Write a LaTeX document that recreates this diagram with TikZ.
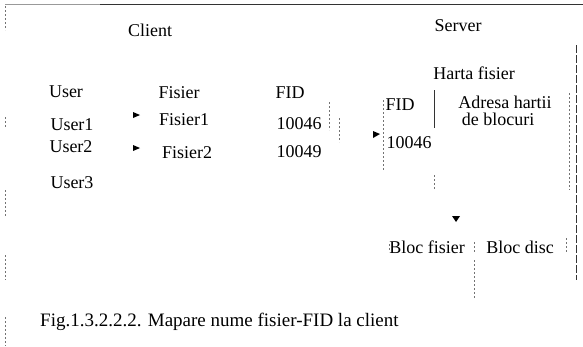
\documentclass[tikz,border=0pt]{standalone}
\usepackage{fontspec}
\setmainfont{Liberation Serif}
\usetikzlibrary{shapes.geometric}
\tikzset{
  lbl/.style={inner sep=0pt, font=\fontsize{18}{20}\selectfont},
  faint/.style={draw=black!55, line width=0.6pt, dash pattern=on 2pt off 2pt},
  rule/.style={draw=black!80, line width=0.8pt},
  tip/.style={fill=black, draw=none}
}
\begin{document}
\begin{tikzpicture}[x=1pt,y=-1pt]
\useasboundingbox (0,0) rectangle (583,346);
% frame remnants
\draw[draw=black!40, line width=0.6pt] (5,4) -- (100,4);
\draw[rule] (100,4) -- (583,4);
\draw[faint] (5,6) -- (5,30);
\draw[faint] (5,117) -- (5,128);
\draw[faint] (5,190) -- (5,217);
\draw[faint] (5,255) -- (5,280);
\draw[faint] (5,317) -- (5,346);

% headings
\node[lbl] (client) at (150,30) {Client};
\node[lbl] (server) at (458,26) {Server};
\node[lbl] (harta) at (474,73) {Harta fisier};

% client table
\node[lbl] (huser) at (66,92) {User};
\node[lbl] (hfis) at (179,93) {Fisier};
\node[lbl] (hfid) at (290,93) {FID};
\node[lbl] (u1) at (72,125) {User1};
\node[lbl] (u2) at (71,147) {User2};
\node[lbl] (u3) at (72,183) {User3};
\node[lbl] (f1) at (184,120) {Fisier1};
\node[lbl] (f2) at (187,153) {Fisier2};
\node[lbl] (id1) at (299,124) {10046};
\node[lbl] (id2) at (299,152) {10049};
\draw[faint] (329,102) -- (329,130);
\draw[faint] (339,118) -- (339,142);

% arrowheads towards the file names
\fill[tip] (133,112) -- (140,115) -- (133,118) -- cycle;
\fill[tip] (133,145) -- (140,148) -- (133,151) -- cycle;

% server file map
\draw[faint] (383,100) -- (383,170);
\fill[tip] (373,131) -- (380,134) -- (373,138) -- cycle;
\node[lbl] (sfid) at (400,105) {FID};
\node[lbl] (sid) at (409,143) {10046};
\draw[rule, line width=0.6pt] (434,90) -- (434,128);
\draw[faint] (434,175) -- (434,190);
\node[lbl] (adr) at (505,102) {Adresa hartii};
\node[lbl] (blc) at (498,119) {de blocuri};
\draw[faint] (569,93) -- (569,190);
\draw[rule, line width=0.6pt, dash pattern=on 8pt off 2pt] (576,45) -- (576,280);

% block level
\fill[tip] (452,216) -- (460,216) -- (456,222) -- cycle;
\node[lbl] (bf) at (427,247) {Bloc fisier};
\node[lbl] (bd) at (520,247) {Bloc disc};
\draw[faint] (389,244) -- (389,250);
\draw[faint] (474,242) -- (474,252);
\draw[faint] (566,238) -- (566,252);
\draw[faint] (474,260) -- (474,298);

% caption
\node[lbl, anchor=west, font=\fontsize{19}{21}\selectfont] (cap) at (40,322) {Fig.1.3.2.2.2. Mapare nume fisier-FID la client};
\end{tikzpicture}
\end{document}
